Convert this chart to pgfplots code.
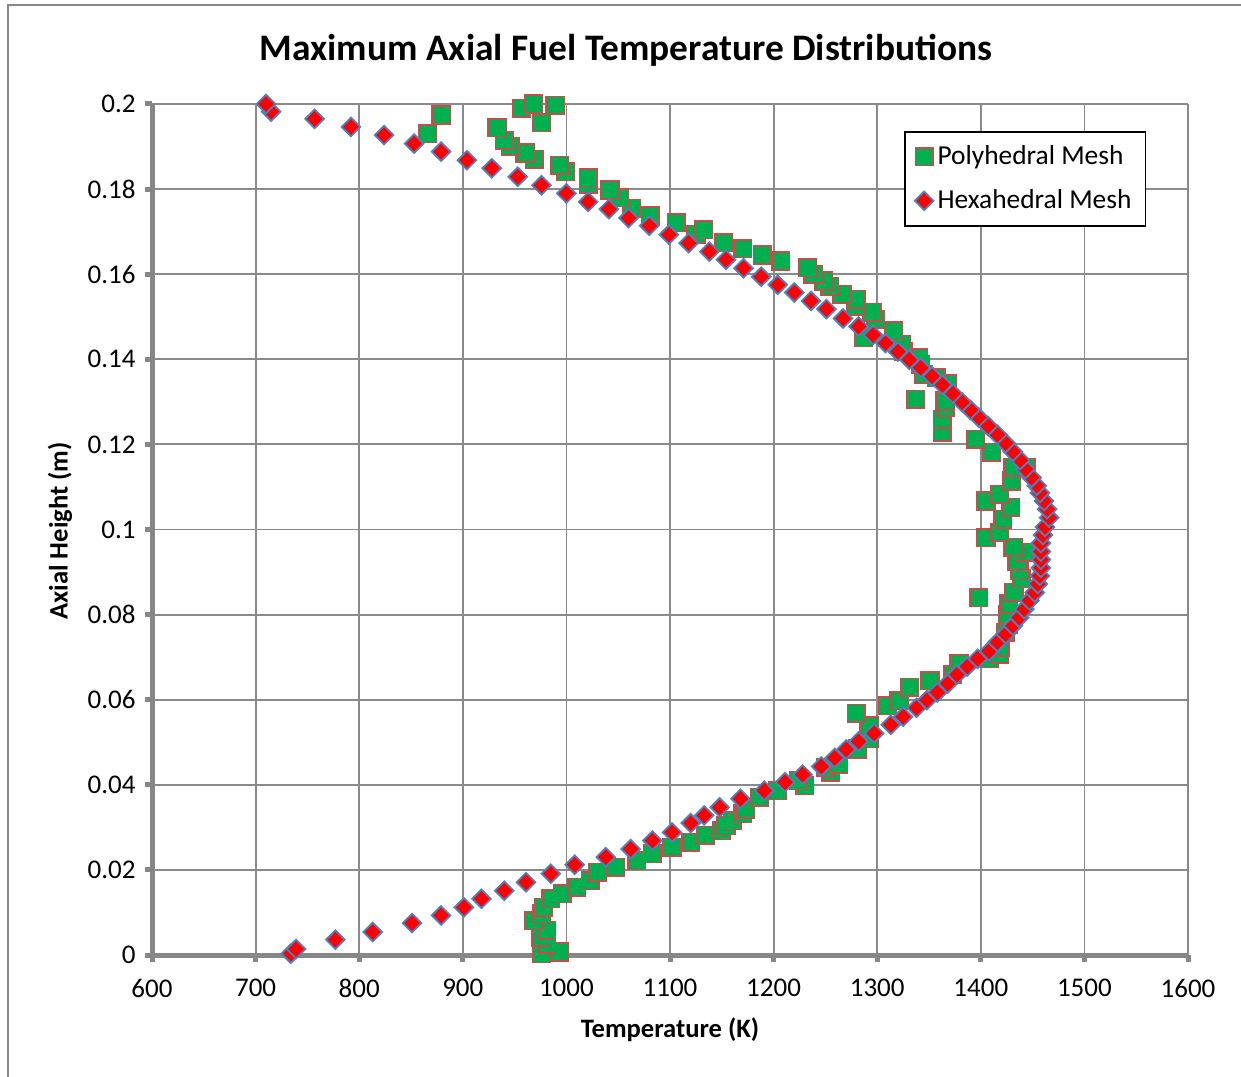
\documentclass[border=0pt]{standalone}
\usepackage{pgfplots}
\pgfplotsset{compat=1.18}
\usepackage{pgfplotstable}
\usepackage{fontspec}
\setmainfont{Carlito}
\definecolor{polyfill}{HTML}{00B050}
\definecolor{polyedge}{HTML}{C0504D}
\definecolor{hexfill}{HTML}{FF0000}
\definecolor{hexedge}{HTML}{4F81BD}
\definecolor{gridgray}{HTML}{8A8A8A}
\definecolor{axgray}{HTML}{878787}

\pgfplotstableread{
T h
976 0.0003
993 0.0007
981 0.0026
975 0.0042
981 0.0058
968 0.0081
976 0.0097
978 0.0112
985 0.0132
996 0.0144
1010 0.0159
1023 0.0175
1030 0.0194
1047 0.0206
1068 0.0222
1083 0.0238
1102 0.0253
1120 0.0265
1134 0.0281
1150 0.0292
1154 0.0304
1160 0.0316
1170 0.0332
1173 0.0343
1186 0.0371
1204 0.0386
1230 0.0398
1224 0.0410
1255 0.0429
1250 0.0441
1263 0.0449
1281 0.0484
1292 0.0508
1292 0.0539
1280 0.0568
1310 0.0586
1321 0.0598
1331 0.0629
1351 0.0645
1373 0.0660
1379 0.0684
1408 0.0696
1418 0.0707
1419 0.0723
1424 0.0758
1427 0.0778
1426 0.0801
1427 0.0825
1398 0.0840
1432 0.0852
1439 0.0884
1437 0.0903
1435 0.0926
1442 0.0946
1431 0.0958
1405 0.0981
1418 0.0993
1421 0.1024
1429 0.1052
1405 0.1067
1418 0.1083
1430 0.1114
1431 0.1146
1444 0.1146
1410 0.1181
1395 0.1212
1363 0.1228
1363 0.1259
1366 0.1287
1365 0.1302
1337 0.1306
1368 0.1342
1357 0.1357
1345 0.1365
1342 0.1388
1340 0.1404
1325 0.1418
1323 0.1435
1287 0.1451
1316 0.1467
1298 0.1494
1295 0.1510
1279 0.1525
1280 0.1541
1266 0.1553
1254 0.1572
1248 0.1584
1238 0.1600
1233 0.1615
1207 0.1631
1189 0.1645
1170 0.1660
1152 0.1674
1125 0.1694
1132 0.1705
1106 0.1721
1081 0.1737
1063 0.1755
1051 0.1780
1042 0.1798
1021 0.1811
1021 0.1827
999 0.1841
993 0.1856
969 0.1870
960 0.1885
946 0.1901
940 0.1915
866 0.1930
933 0.1944
976 0.1956
879 0.1974
957 0.1990
989 0.1997
968 0.2000
}\polytable

\pgfplotstableread{
T h
734 0.0003
739 0.0014
777 0.0036
813 0.0054
851 0.0075
879 0.0093
901 0.0112
918 0.0132
940 0.0151
961 0.0171
985 0.0191
1008 0.0212
1038 0.0230
1062 0.0249
1083 0.0269
1102 0.0288
1120 0.0310
1133 0.0328
1148 0.0347
1168 0.0367
1191 0.0386
1211 0.0406
1228 0.0424
1246 0.0443
1259 0.0463
1270 0.0483
1282 0.0502
1297 0.0521
1313 0.0541
1325 0.0560
1338 0.0581
1348 0.0599
1358 0.0617
1368 0.0638
1377 0.0659
1387 0.0678
1397 0.0696
1408 0.0714
1416 0.0735
1424 0.0754
1431 0.0774
1437 0.0793
1442 0.0813
1447 0.0833
1452 0.0852
1455 0.0872
1457 0.0891
1458 0.0910
1458 0.0929
1458 0.0948
1458 0.0968
1460 0.0987
1462 0.1006
1466 0.1028
1464 0.1048
1461 0.1067
1457 0.1086
1454 0.1103
1449 0.1122
1443 0.1142
1438 0.1163
1431 0.1183
1424 0.1203
1416 0.1223
1407 0.1243
1398 0.1263
1390 0.1281
1382 0.1299
1373 0.1319
1363 0.1340
1353 0.1360
1342 0.1380
1331 0.1399
1320 0.1418
1308 0.1438
1296 0.1457
1282 0.1477
1267 0.1496
1251 0.1518
1236 0.1537
1220 0.1557
1204 0.1575
1188 0.1594
1171 0.1614
1154 0.1634
1138 0.1653
1118 0.1673
1099 0.1693
1080 0.1714
1060 0.1732
1041 0.1753
1021 0.1770
1000 0.1790
976 0.1809
953 0.1829
928 0.1849
904 0.1868
879 0.1888
853 0.1907
824 0.1927
792 0.1946
757 0.1965
715 0.1982
710 0.2000
}\hextable

\begin{document}
\begin{tikzpicture}
\useasboundingbox (-76pt,-60.5pt) rectangle (544.5pt,477.5pt);
\draw[axgray, line width=0.75pt] (-72pt,-61pt) -- (-72pt,475pt) -- (545pt,475pt);
\begin{axis}[
  at={(0pt,0pt)}, anchor=south west,
  scale only axis, width=518pt, height=425.5pt,
  xmin=600, xmax=1600, ymin=0, ymax=0.2,
  xtick={600,700,800,900,1000,1100,1200,1300,1400,1500,1600},
  ytick={0,0.02,0.04,0.06,0.08,0.1,0.12,0.14,0.16,0.18,0.2},
  yticklabels={0,0.02,0.04,0.06,0.08,0.1,0.12,0.14,0.16,0.18,0.2},
  scaled x ticks=false, scaled y ticks=false,
  /pgf/number format/assume math mode=true,
  /pgf/number format/1000 sep={},
  axis lines*=left,
  axis line style={axgray, line width=2.5pt},
  tick align=outside,
  major tick length=3.7pt,
  tick style={axgray, line width=2.5pt},
  grid=major,
  major grid style={gridgray, line width=0.9pt},
  ticklabel style={font=\fontsize{13.5}{16}\selectfont},
  xticklabel style={yshift=-5pt},
  yticklabel style={xshift=-1pt},
  clip=false,
  legend cell align=left,
  legend style={at={(0.7259,0.9683)}, anchor=north west, draw=black, line width=0.8pt,
    font=\fontsize{13.7}{16}\selectfont, inner xsep=5pt, inner ysep=5pt, row sep=7pt},
  legend image code/.code={\draw[mark repeat=2,mark phase=2,#1] plot coordinates {(0pt,0pt)(7pt,0pt)(14pt,0pt)};},
]
\addplot[only marks, mark=square*, mark size=4.4pt,
  mark options={fill=polyfill, draw=polyedge, line width=0.8pt}] table[x=T,y=h] {\polytable};
\addlegendentry{Polyhedral Mesh}
\addplot[only marks, mark=square*, mark size=3.3pt,
  mark options={rotate=45, fill=hexfill, draw=hexedge, line width=0.9pt}] table[x=T,y=h] {\hextable};
\addlegendentry{Hexahedral Mesh}
\end{axis}
\node[font=\fontsize{18.7}{22}\selectfont\bfseries] at (237pt,452.5pt) {Maximum Axial Fuel Temperature Distributions};
\node[font=\fontsize{13.3}{16}\selectfont\bfseries] at (259pt,-37.5pt) {Temperature (K)};
\node[font=\fontsize{13.3}{16}\selectfont\bfseries, rotate=90] at (-46pt,212pt) {Axial Height (m)};
\end{tikzpicture}
\end{document}
